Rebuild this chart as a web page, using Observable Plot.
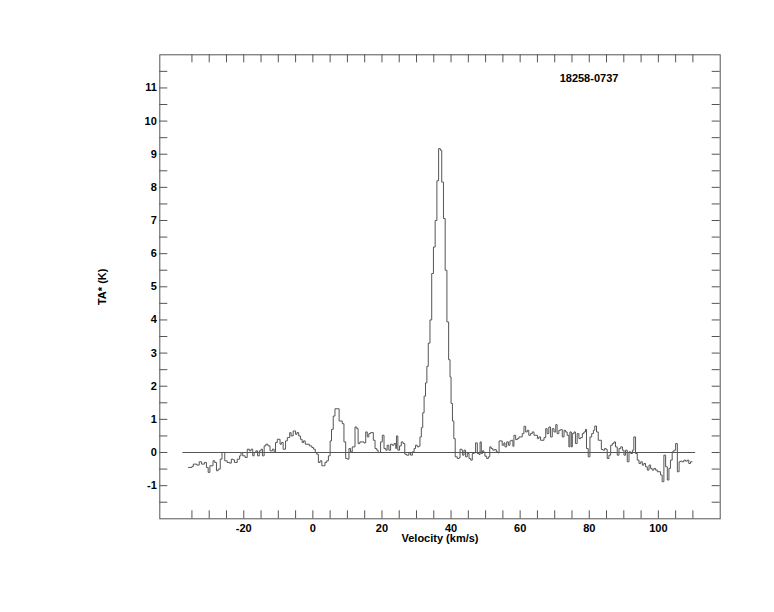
<!DOCTYPE html>
<html>
<head>
<meta charset="utf-8">
<script src="https://cdn.jsdelivr.net/npm/d3@7"></script>
<script src="https://cdn.jsdelivr.net/npm/@observablehq/plot@0.6"></script>
<style>
  html, body { margin: 0; padding: 0; background: #fff; }
  #chart svg { display: block; }
</style>
</head>
<body>
<div id="chart"></div>
<script>
const sourceName = "18258-0737";
const xLabel = "Velocity (km/s)";
const yLabel = "TA* (K)";

const velocity = [
  -36.0,-35.0,-34.6,-33.6,-32.9,-32.2,-31.4,-30.8,-30.3,-29.8,-28.9,-28.4,-27.9,-27.4,-26.8,-26.3,
  -25.5,-24.8,-24.1,-23.6,-23.1,-22.7,-21.9,-21.2,-20.8,-20.3,-19.6,-19.0,-18.4,-17.9,-17.4,-17.0,
  -16.5,-16.0,-15.5,-15.0,-14.6,-14.1,-13.6,-13.0,-12.4,-11.7,-11.2,-10.8,-10.3,-9.5,-9.1,-8.6,
  -7.9,-7.4,-6.7,-6.3,-5.7,-5.0,-4.6,-4.1,-3.6,-3.1,-2.7,-2.2,-1.7,-1.0,-0.3,0.2,0.7,1.1,1.6,2.1,
  2.6,3.0,3.5,4.0,4.5,5.0,5.4,5.9,6.4,7.6,8.5,9.0,9.5,10.0,10.45,10.9,11.4,12.2,12.7,13.1,13.6,
  14.8,15.3,15.75,16.2,16.7,17.5,18.0,18.5,18.9,19.6,20.1,20.6,21.1,21.5,22.0,22.5,23.0,23.5,
  24.0,24.2,24.6,25.1,25.6,26.1,26.6,27.1,27.8,28.3,28.8,29.3,29.7,30.2,30.7,31.0,31.4,31.8,
  32.2,32.6,33.0,33.4,33.9,34.4,34.9,35.4,35.9,36.4,36.9,37.3,37.8,38.3,38.8,39.3,39.7,40.0,
  40.4,40.8,41.2,41.8,42.3,42.6,43.1,43.35,43.75,44.2,44.7,45.2,45.7,46.15,46.6,47.1,47.6,48.1,
  48.4,48.75,49.1,49.5,49.8,50.3,50.8,51.2,51.6,52.1,52.6,53.1,53.6,53.9,54.8,55.3,55.6,56.1,
  56.6,57.05,57.5,57.9,58.2,58.7,59.2,59.65,60.6,61.1,61.6,62.06,62.5,63.0,63.5,64.0,65.0,65.4,
  65.9,66.9,67.4,67.8,68.3,68.8,69.3,69.8,70.3,70.7,71.2,71.7,72.2,72.7,73.1,73.6,74.1,74.4,
  74.8,75.1,75.6,76.0,76.5,77.0,77.5,78.0,78.45,78.9,79.2,79.7,80.2,80.7,81.2,81.6,82.1,82.6,
  83.5,84.0,84.45,84.9,85.2,85.7,86.2,86.7,87.15,87.6,88.1,88.6,89.1,89.6,90.05,90.5,91.0,91.5,
  92.0,92.5,92.9,93.4,93.9,94.4,94.9,95.35,95.8,96.3,96.8,97.3,97.76,98.2,98.7,99.2,99.7,100.65,
  101.1,101.6,102.1,102.6,103.06,103.5,104.0,104.5,105.0,105.5,106.0,106.4,106.9,107.4,107.9,
  108.4,108.8,109.3,109.8
];
const ta = [
  -0.45,-0.42,-0.35,-0.38,-0.28,-0.35,-0.30,-0.45,-0.60,-0.40,-0.25,-0.30,-0.55,-0.50,-0.20,0.00,
  -0.25,-0.30,-0.32,-0.20,-0.22,-0.30,-0.20,-0.10,0.00,-0.10,-0.15,0.10,0.05,0.10,-0.10,0.00,
  0.05,-0.10,0.05,0.10,-0.10,0.20,0.25,0.20,0.05,0.10,0.00,0.30,0.40,0.25,0.30,0.10,
  0.35,0.45,0.60,0.50,0.65,0.55,0.60,0.50,0.40,0.30,0.35,0.25,0.25,0.20,0.15,0.10,0.00,-0.05,-0.30,-0.25,
  -0.40,-0.40,-0.30,-0.25,-0.10,0.35,0.70,1.10,1.32,0.95,0.87,0.32,-0.18,-0.20,0.12,0.02,0.17,0.77,0.72,0.27,0.32,
  0.29,0.62,0.47,0.57,0.60,0.37,0.12,0.07,0.00,0.32,0.52,0.12,0.07,0.22,0.07,0.25,0.22,0.27,
  0.12,0.50,0.07,0.20,0.32,0.27,-0.05,-0.08,-0.01,-0.08,0.02,0.12,0.22,0.17,0.19,0.47,0.75,1.20,
  1.70,2.10,2.60,3.30,4.00,5.40,6.20,7.00,8.20,9.17,9.12,8.16,7.06,5.50,3.94,2.80,2.28,1.48,
  0.95,0.42,-0.13,-0.18,-0.16,0.10,0.07,-0.08,0.07,-0.13,-0.03,-0.18,-0.23,-0.03,-0.01,0.29,-0.03,-0.06,
  0.32,-0.03,0.05,0.00,-0.11,-0.18,-0.13,0.17,0.12,0.07,0.09,0.02,-0.01,0.35,0.22,0.29,0.17,0.32,
  0.22,0.35,0.37,0.19,0.52,0.39,0.42,0.47,0.57,0.79,0.62,0.67,0.52,0.57,0.62,0.52,0.42,0.47,
  0.37,0.45,0.72,0.57,0.77,0.47,0.72,0.62,0.84,0.57,0.67,0.69,0.47,0.67,0.62,0.52,0.17,0.62,
  0.17,0.57,0.62,0.27,0.57,0.42,0.45,0.57,0.62,0.70,0.12,-0.13,0.47,0.57,0.67,0.80,0.62,0.37,
  0.09,0.07,0.12,0.09,-0.18,-0.08,0.22,0.27,0.32,0.17,-0.08,0.12,0.17,0.07,-0.08,0.07,-0.28,0.02,
  -0.03,0.07,0.47,-0.03,-0.23,-0.33,-0.28,-0.38,-0.33,-0.43,-0.53,-0.38,-0.48,-0.53,-0.48,-0.53,-0.58,-0.68,
  -0.88,-0.08,-0.43,-0.83,-0.48,-0.23,0.02,0.07,0.27,-0.58,-0.28,-0.26,-0.28,-0.23,-0.26,
  -0.23,-0.33,-0.28,-0.28
];

const xDomain = [-44.3, 117.9];
const yDomain = [-2, 12];
const baselineRange = [-37.6, 110.8];
const xTicks = d3.range(-35, 111, 5);
const xTickLabels = [-20, 0, 20, 40, 60, 80, 100];
const yTicks = d3.range(-1.5, 11.6, 0.5);
const yTickLabels = [-1, 0, 1, 2, 3, 4, 5, 6, 7, 8, 9, 10, 11];

const spectrum = velocity.map((v, i) => ({v, t: ta[i]}));

const W = 774, H = 612;
const mL = 159.3, mR = 54.3, mT = 54.3, mB = 93.7;
const innerW = W - mL - mR, innerH = H - mT - mB;
const tickLen = 8;
const ink = "#555";
const font = "'Liberation Sans', Arial, Helvetica, sans-serif";

const chart = Plot.plot({
  width: W,
  height: H,
  marginLeft: mL,
  marginRight: mR,
  marginTop: mT,
  marginBottom: mB,
  style: {fontFamily: font, fontSize: "11px", fontWeight: "bold", color: "#000", background: "#fff"},
  x: {domain: xDomain, ticks: xTickLabels, tickSize: 0, tickPadding: 5, tickFormat: d => String(d), label: null},
  y: {domain: yDomain, ticks: yTickLabels, tickSize: 0, tickPadding: 3, tickFormat: d => String(d), label: null},
  marks: [
    Plot.frame({stroke: ink, strokeWidth: 1}),
    Plot.tickX(xTicks, {x: d => d, insetTop: innerH - tickLen, stroke: ink}),
    Plot.tickX(xTicks, {x: d => d, insetBottom: innerH - tickLen, stroke: ink}),
    Plot.tickY(yTicks, {y: d => d, insetRight: innerW - tickLen, stroke: ink}),
    Plot.tickY(yTicks, {y: d => d, insetLeft: innerW - tickLen, stroke: ink}),
    Plot.ruleY([0], {x1: baselineRange[0], x2: baselineRange[1], stroke: ink, strokeWidth: 1}),
    Plot.line(spectrum, {x: "v", y: "t", curve: "step-after", stroke: ink, strokeWidth: 1}),
    Plot.text([sourceName], {text: d => d, frameAnchor: "top", dx: 149, dy: 24, lineAnchor: "middle",
      textAnchor: "middle", fontSize: 11, fontWeight: "bold", fill: "#000"}),
    Plot.text([xLabel], {text: d => d, frameAnchor: "bottom", dy: 20, lineAnchor: "middle",
      textAnchor: "middle", fontSize: 11, fontWeight: "bold", fill: "#000"}),
    Plot.text([yLabel], {text: d => d, frameAnchor: "left", dx: -57, rotate: -90, lineAnchor: "middle",
      textAnchor: "middle", fontSize: 11, fontWeight: "bold", fill: "#000"})
  ]
});
document.getElementById("chart").appendChild(chart);
</script>
</body>
</html>
